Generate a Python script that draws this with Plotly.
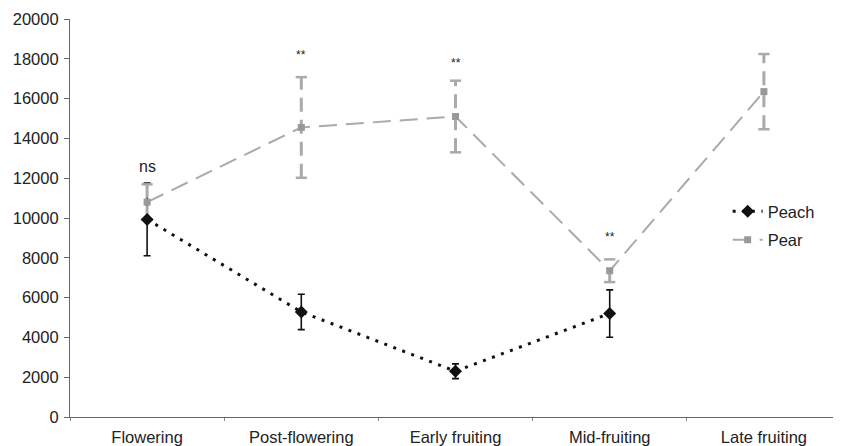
import plotly.graph_objects as go

categories = ["Flowering", "Post-flowering", "Early fruiting", "Mid-fruiting", "Late fruiting"]
peach_mean = [9930, 5280, 2300, 5200, None]
peach_err = [1830, 890, 370, 1190, None]
pear_mean = [10800, 14550, 15100, 7350, 16350]
pear_err = [890, 2530, 1800, 570, 1890]
sig_labels = ["ns", "**", "**", "**", ""]
sig_y = [12570, 18190, 17800, 9050, None]

y_ticks = list(range(0, 20001, 2000))

FONT = "Liberation Sans, Arial, Helvetica, sans-serif"
PEACH_C = "#111111"
PEAR_LINE = "#AAAAAA"
PEAR_MARK = "#999999"

fig = go.Figure()

# Peach error bars (underneath pear bars)
fig.add_trace(go.Scatter(
    x=categories[:4], y=peach_mean[:4], mode="markers",
    marker=dict(size=1, color="rgba(0,0,0,0)"),
    error_y=dict(type="data", array=peach_err[:4], color=PEACH_C, thickness=1.6, width=3.5),
    showlegend=False, hoverinfo="skip"))

# Pear dashed error bars (vertical part), drawn from data
for c, m, e in zip(categories, pear_mean, pear_err):
    fig.add_trace(go.Scatter(
        x=[c, c], y=[m - e, m + e], mode="lines",
        line=dict(color=PEAR_LINE, width=3, dash="14px,8px"),
        showlegend=False, hoverinfo="skip"))

# Pear caps
cap_x = categories + categories
cap_y = [m + e for m, e in zip(pear_mean, pear_err)] + [m - e for m, e in zip(pear_mean, pear_err)]
fig.add_trace(go.Scatter(
    x=cap_x, y=cap_y, mode="markers",
    marker=dict(symbol="line-ew-open", size=8, color=PEAR_LINE,
                line=dict(color=PEAR_LINE, width=2.5)),
    showlegend=False, hoverinfo="skip"))

# Pear
fig.add_trace(go.Scatter(
    x=categories, y=pear_mean, name="Pear", mode="lines+markers",
    line=dict(color=PEAR_LINE, width=2, dash="18px,9px"),
    marker=dict(symbol="square", size=7, color=PEAR_MARK),
    legendgroup="pear", legendrank=2))

# Peach line and markers on top
fig.add_trace(go.Scatter(
    x=categories[:4], y=peach_mean[:4], name="Peach", mode="lines+markers",
    line=dict(color=PEACH_C, width=3, dash="3px,6.6px"),
    marker=dict(symbol="diamond", size=10, color=PEACH_C),
    legendgroup="peach", legendrank=1))

for c, t, yv in zip(categories, sig_labels, sig_y):
    if t:
        fig.add_annotation(x=c, y=yv, text=t, showarrow=False,
                           font=dict(size=16 if t == "ns" else 12, color="#222222", family=FONT))

fig.update_layout(
    width=833, height=438,
    margin=dict(l=62, r=0, t=11, b=29),
    paper_bgcolor="white", plot_bgcolor="white",
    font=dict(family=FONT, size=16.5, color="#222222"),
    showlegend=True,
    legend=dict(x=0.853, y=0.56, xanchor="left", yanchor="top",
                traceorder="grouped", tracegroupgap=4,
                font=dict(size=16.5, color="#222222", family=FONT),
                bgcolor="rgba(0,0,0,0)"),
    xaxis=dict(type="category", categoryorder="array", categoryarray=categories,
               range=[-0.5, 4.5], showline=True, linecolor="#666666", linewidth=1.2,
               ticks="outside", tickson="boundaries", ticklen=3, tickcolor="#888888",
               showgrid=False, zeroline=False, tickfont=dict(size=16.5, color="#222222"),
               ticklabelstandoff=5),
    yaxis=dict(range=[0, 20000], tickvals=y_ticks, tickformat="d", showline=True,
               linecolor="#666666", linewidth=1.2, ticks="outside", ticklen=5,
               tickcolor="#666666", ticklabelstandoff=2,
               showgrid=False, zeroline=False, tickfont=dict(size=16.5, color="#222222")),
)

fig.write_html("out.html")
